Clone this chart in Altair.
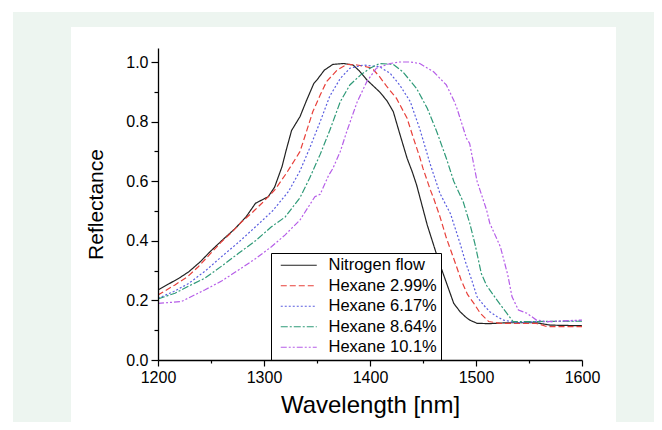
import altair as alt
import pandas as pd

FONT = "Liberation Sans"

series_names = ["Nitrogen flow", "Hexane 2.99%", "Hexane 6.17%", "Hexane 8.64%", "Hexane 10.1%"]
series_colors = ["#222222", "#e8403a", "#5a5ee0", "#2f9a78", "#b65ee8"]
series_dashes = [[1, 0], [6, 3], [2, 2], [7, 2, 2, 2], [6, 2, 2, 2, 2, 2]]

n2_wl = [1200, 1210, 1220, 1229, 1240, 1249, 1260, 1273, 1283, 1292, 1304, 1310, 1317, 1321, 1326,
         1334, 1340, 1347, 1350, 1357, 1365, 1375, 1384, 1390, 1397, 1403, 1409, 1416, 1422, 1428,
         1435, 1440, 1444, 1449, 1454, 1460, 1465, 1469, 1474, 1479, 1485, 1490, 1494, 1501, 1513,
         1529, 1545, 1557, 1570, 1585, 1600]
n2_r = [0.235, 0.255, 0.275, 0.296, 0.33, 0.363, 0.40, 0.442, 0.48, 0.526, 0.548, 0.58, 0.649, 0.705, 0.77,
        0.817, 0.87, 0.928, 0.94, 0.973, 0.992, 0.995, 0.99, 0.97, 0.94, 0.92, 0.90, 0.87, 0.833, 0.76,
        0.677, 0.63, 0.587, 0.52, 0.453, 0.386, 0.33, 0.29, 0.24, 0.19, 0.162, 0.145, 0.134, 0.123, 0.122,
        0.125, 0.125, 0.125, 0.117, 0.116, 0.115]

h299_wl = [1200, 1216, 1228, 1238, 1249, 1260, 1270, 1279, 1289, 1298, 1310, 1321, 1329, 1334, 1340,
           1346, 1353, 1359, 1369, 1378, 1388, 1395, 1402, 1409, 1416, 1425, 1435, 1441, 1447, 1450,
           1457, 1460, 1466, 1472, 1476, 1481, 1486, 1492, 1498, 1504, 1512, 1523, 1540, 1557, 1567,
           1580, 1600]
h299_r = [0.218, 0.252, 0.28, 0.313, 0.355, 0.397, 0.43, 0.464, 0.495, 0.526, 0.57, 0.626, 0.671, 0.70, 0.766,
          0.833, 0.889, 0.934, 0.973, 0.992, 0.99, 0.985, 0.979, 0.951, 0.917, 0.878, 0.811, 0.744, 0.68, 0.643,
          0.57, 0.543, 0.481, 0.41, 0.37, 0.32, 0.268, 0.22, 0.19, 0.157, 0.129, 0.123, 0.123, 0.123, 0.112,
          0.112, 0.112]

h617_wl = [1200, 1215, 1229, 1245, 1260, 1276, 1292, 1308, 1323, 1334, 1343, 1353, 1362, 1372, 1381,
           1394, 1409, 1419, 1428, 1438, 1447, 1457, 1466, 1476, 1485, 1490, 1496, 1501, 1507, 1513,
           1520, 1526, 1538, 1557, 1573, 1600]
h617_r = [0.207, 0.23, 0.257, 0.30, 0.347, 0.395, 0.447, 0.50, 0.565, 0.635, 0.71, 0.80, 0.885, 0.945, 0.979,
          0.99, 0.984, 0.962, 0.923, 0.867, 0.775, 0.655, 0.559, 0.49, 0.391, 0.33, 0.268, 0.212, 0.185, 0.162,
          0.145, 0.134, 0.125, 0.129, 0.129, 0.132]

h864_wl = [1200, 1216, 1230, 1244, 1260, 1276, 1292, 1307, 1320, 1334, 1343, 1353, 1362, 1372, 1381,
           1391, 1400, 1409, 1422, 1431, 1444, 1454, 1463, 1472, 1479, 1488, 1494, 1499, 1505, 1510,
           1520, 1529, 1535, 1557, 1580, 1600]
h864_r = [0.205, 0.224, 0.25, 0.274, 0.315, 0.358, 0.40, 0.447, 0.48, 0.545, 0.61, 0.69, 0.77, 0.867, 0.923,
          0.956, 0.979, 0.995, 0.992, 0.967, 0.911, 0.845, 0.766, 0.677, 0.60, 0.53, 0.46, 0.39, 0.29, 0.25,
          0.20, 0.157, 0.129, 0.129, 0.13, 0.13]

h101_wl = [1200, 1222, 1244, 1260, 1276, 1292, 1307, 1320, 1334, 1348, 1353, 1361, 1365, 1372, 1378,
           1388, 1397, 1406, 1419, 1428, 1438, 1447, 1460, 1472, 1479, 1482, 1491, 1494, 1498, 1501,
           1510, 1513, 1523, 1530, 1534, 1540, 1548, 1557, 1567, 1600]
h101_r = [0.19, 0.196, 0.235, 0.265, 0.302, 0.34, 0.38, 0.42, 0.47, 0.548, 0.556, 0.62, 0.643, 0.70, 0.766,
          0.867, 0.934, 0.979, 0.995, 1.0, 1.0, 0.995, 0.967, 0.923, 0.872, 0.845, 0.744, 0.727, 0.654, 0.60,
          0.503, 0.459, 0.38, 0.285, 0.212, 0.168, 0.157, 0.134, 0.129, 0.134]

x_major = [1200, 1300, 1400, 1500, 1600]
x_minor = [1250, 1350, 1450, 1550]
y_major = [0.0, 0.2, 0.4, 0.6, 0.8, 1.0]
y_minor = [0.1, 0.3, 0.5, 0.7, 0.9]

rows = []
for name, wl, rr in zip(series_names,
                        [n2_wl, h299_wl, h617_wl, h864_wl, h101_wl],
                        [n2_r, h299_r, h617_r, h864_r, h101_r]):
    assert len(wl) == len(rr), name
    for w, v in zip(wl, rr):
        rows.append({"wl": w, "R": v, "series": name})
df = pd.DataFrame(rows)

xscale = alt.Scale(domain=[1200, 1600], nice=False, zero=False)
yscale = alt.Scale(domain=[0, 1.047], nice=False, zero=False)

one = pd.DataFrame({"a": [0]})
mint = alt.Chart(one).mark_rect(color="#edf5f0", clip=False).encode(
    x=alt.value(-145), x2=alt.value(520), y=alt.value(-36), y2=alt.value(420)
)
panel = alt.Chart(one).mark_rect(color="white", clip=False).encode(
    x=alt.value(-87), x2=alt.value(458), y=alt.value(-21), y2=alt.value(420)
)

minor = alt.Chart(pd.DataFrame({"wl": [1200], "R": [0.0]})).mark_point(opacity=0).encode(
    x=alt.X("wl:Q", scale=xscale,
            axis=alt.Axis(values=x_minor, labels=False, domain=False, tickSize=3, title=None,
                          orient="bottom", zindex=2, grid=False, tickColor="black", tickWidth=1.2)),
    y=alt.Y("R:Q", scale=yscale,
            axis=alt.Axis(values=y_minor, labels=False, domain=False, tickSize=4, title=None,
                          orient="left", zindex=2, grid=False, tickColor="black", tickWidth=1.2)),
)

lines = alt.Chart(df).mark_line(strokeWidth=1.2, clip=True).encode(
    x=alt.X("wl:Q", scale=xscale,
            axis=alt.Axis(values=x_major, title="Wavelength [nm]", orient="bottom", zindex=2,
                          grid=False, tickSize=6, labelPadding=3, titlePadding=8, format="d",
                          labelFlush=False, titleFontSize=24)),
    y=alt.Y("R:Q", scale=yscale,
            axis=alt.Axis(values=y_major, title="Reflectance", orient="left", zindex=2,
                          grid=False, tickSize=7, labelPadding=3, titlePadding=19, format=".1f",
                          labelFlush=False, titleFontSize=21)),
    color=alt.Color("series:N", title=None, sort=series_names,
                    scale=alt.Scale(domain=series_names, range=series_colors)),
    strokeDash=alt.StrokeDash("series:N", title=None, sort=series_names,
                              scale=alt.Scale(domain=series_names, range=series_dashes)),
)

chart = alt.layer(mint, panel, minor, lines).resolve_axis(x="independent", y="independent").properties(
    width=424, height=312,
    autosize=alt.AutoSizeParams(type="none"),
    padding={"left": 150, "top": 40, "right": 72, "bottom": 62},
    background="white",
).configure_view(
    stroke="black", strokeWidth=1.3, fill=None
).configure_axis(
    labelFont=FONT, labelFontSize=16, labelColor="black",
    titleFont=FONT, titleFontWeight="normal", titleColor="black",
    domainColor="black", domainWidth=1.3, tickColor="black", tickWidth=1.2,
).configure_legend(
    orient="none", legendX=113, legendY=205,
    strokeColor="black", fillColor="white", padding=4, cornerRadius=0,
    labelFont=FONT, labelFontSize=16.5, labelColor="black", labelOffset=35,
    symbolType="M-1,0L7,0", symbolSize=81, symbolStrokeWidth=1.2, symbolOffset=2,
    rowPadding=3.5,
)

chart.save("out.html", embed_options={"renderer": "svg", "actions": False})
